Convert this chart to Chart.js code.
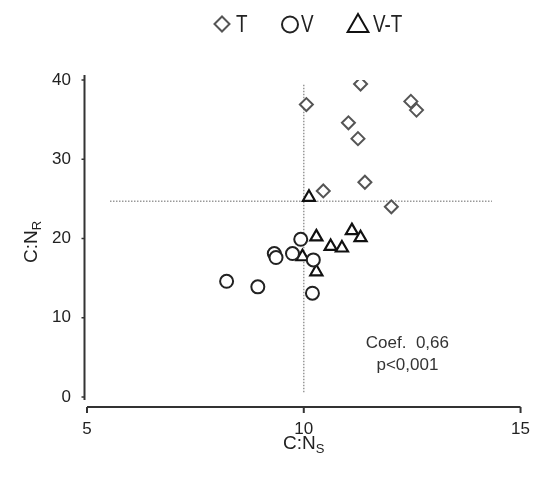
<!DOCTYPE html>
<html>
<head>
<meta charset="utf-8">
<script src="https://cdn.jsdelivr.net/npm/chart.js@4.4.0/dist/chart.umd.min.js"></script>
<style>
  html, body { margin: 0; padding: 0; background: #fff; }
  #wrap { width: 534px; height: 481px; }
</style>
</head>
<body>
<div id="wrap"><canvas id="chart"></canvas></div>
<script>
var FONT = "'Liberation Sans', Arial, sans-serif";

// values
var tX = [11.31, 10.06, 12.47, 12.60, 11.03, 11.25, 11.41, 10.45, 12.02];
var tY = [39.5, 36.9, 37.3, 36.2, 34.6, 32.6, 27.1, 26.0, 24.0];

var vX = [8.22, 8.94, 9.32, 9.36, 9.74, 9.93, 10.22, 10.20];
var vY = [14.6, 13.9, 18.1, 17.6, 18.1, 19.9, 17.3, 13.1];

var vtX = [10.12, 10.29, 10.62, 10.88, 11.11, 11.31, 9.97, 10.29];
var vtY = [25.2, 20.2, 19.0, 18.8, 21.0, 20.1, 17.7, 15.8];

var seriesNames = ['T', 'V', 'V-T'];

// dotted reference lines
var vLineX = [10, 10];
var vLineY = [0.6, 39.5];
var hLineX = [5.53, 14.34];
var hLineY = [24.7, 24.7];

var xTicks = [5, 10, 15];
var yTicks = [0, 10, 20, 30, 40];

var statLines = ['Coef.  0,66', 'p<0,001'];
var statPos = { x: 12.39, y: [6.8, 4.0] };

function pts(xs, ys) {
  return xs.map(function(x, i) { return { x: x, y: ys[i] }; });
}

// legend drawn by hand so it can sit where the original has it
var legendItems = [
  { style: 'rectRot', r: 7.5, mx: 222, my: 24, tx: 236 },
  { style: 'circle', r: 8, mx: 290, my: 24.5, tx: 301 },
  { style: 'triangle', r: 12, mx: 358, my: 26, tx: 373 }
];

var axesPlugin = {
  id: 'axesPlugin',
  afterDraw: function(chart) {
    var ctx = chart.ctx;
    var xs = chart.scales.x, ys = chart.scales.y;
    var a = chart.chartArea;
    ctx.save();
    ctx.strokeStyle = '#333';
    ctx.lineWidth = 2;
    // y axis
    var yx = a.left - 2.5;
    ctx.beginPath();
    ctx.moveTo(yx, ys.getPixelForValue(40) - 5);
    ctx.lineTo(yx, ys.getPixelForValue(0) + 3);
    ctx.stroke();
    ctx.lineWidth = 1.5;
    yTicks.forEach(function(t) {
      var p = ys.getPixelForValue(t);
      ctx.beginPath();
      ctx.moveTo(yx - 3, p);
      ctx.lineTo(yx, p);
      ctx.stroke();
    });
    // x axis
    ctx.lineWidth = 2;
    ctx.beginPath();
    ctx.moveTo(xs.getPixelForValue(5), a.bottom);
    ctx.lineTo(xs.getPixelForValue(15), a.bottom);
    ctx.stroke();
    xTicks.forEach(function(t) {
      var p = xs.getPixelForValue(t);
      ctx.beginPath();
      ctx.moveTo(p, a.bottom);
      ctx.lineTo(p, a.bottom + 6);
      ctx.stroke();
    });

    // axis titles with subscripts
    ctx.fillStyle = '#222';
    ctx.textBaseline = 'alphabetic';
    function subTitle(main, sub, cx, cy) {
      ctx.font = '19px ' + FONT;
      var w1 = ctx.measureText(main).width;
      ctx.font = '13px ' + FONT;
      var w2 = ctx.measureText(sub).width;
      var x0 = cx - (w1 + w2) / 2;
      ctx.font = '19px ' + FONT;
      ctx.textAlign = 'left';
      ctx.fillText(main, x0, cy);
      ctx.font = '13px ' + FONT;
      ctx.fillText(sub, x0 + w1, cy + 4);
    }
    subTitle('C:N', 'S', xs.getPixelForValue(10), 449);
    ctx.save();
    ctx.translate(37, 242);
    ctx.rotate(-Math.PI / 2);
    subTitle('C:N', 'R', 0, 0);
    ctx.restore();

    // statistics note
    ctx.font = '17px ' + FONT;
    ctx.textAlign = 'center';
    ctx.textBaseline = 'middle';
    ctx.fillStyle = '#333';
    statLines.forEach(function(s, i) {
      ctx.fillText(s, xs.getPixelForValue(statPos.x), ys.getPixelForValue(statPos.y[i]));
    });

    // legend
    legendItems.forEach(function(it, i) {
      var ds = chart.data.datasets[i];
      ctx.strokeStyle = ds.borderColor;
      ctx.fillStyle = '#fff';
      ctx.lineWidth = 2;
      Chart.helpers.drawPoint(ctx, { pointStyle: it.style, radius: it.r, rotation: 0, borderWidth: 2 }, it.mx, it.my);
      ctx.save();
      ctx.fillStyle = '#222';
      ctx.font = '23px ' + FONT;
      ctx.textAlign = 'left';
      ctx.textBaseline = 'alphabetic';
      ctx.translate(it.tx, 32);
      ctx.scale(0.82, 1);
      ctx.fillText(ds.label, 0, 0);
      ctx.restore();
    });
    ctx.restore();
  }
};

var ctx = document.getElementById('chart').getContext('2d');
var myChart = new Chart(ctx, {
  type: 'scatter',
  data: {
    datasets: [
      {
        label: seriesNames[0], data: pts(tX, tY),
        pointStyle: 'rectRot', pointRadius: 6.5, borderWidth: 2,
        borderColor: '#555', backgroundColor: '#fff'
      },
      {
        label: seriesNames[1], data: pts(vX, vY),
        pointStyle: 'circle', pointRadius: 6.5, borderWidth: 2,
        borderColor: '#222', backgroundColor: '#fff'
      },
      {
        label: seriesNames[2], data: pts(vtX, vtY),
        pointStyle: 'triangle', pointRadius: 7, borderWidth: 2.2,
        borderColor: '#111', backgroundColor: '#fff'
      },
      {
        label: 'vline', data: pts(vLineX, vLineY), showLine: true,
        pointRadius: 0, borderColor: '#999', borderWidth: 1.5, borderDash: [1.5, 1.5]
      },
      {
        label: 'hline', data: pts(hLineX, hLineY), showLine: true,
        pointRadius: 0, borderColor: '#999', borderWidth: 1.5, borderDash: [1.5, 1.5]
      }
    ]
  },
  options: {
    responsive: true,
    maintainAspectRatio: false,
    animation: false,
    layout: { padding: { top: 80, right: 10, bottom: 0, left: 0 } },
    scales: {
      x: {
        type: 'linear', min: 5, max: 15,
        afterBuildTicks: function(s) { s.ticks = xTicks.map(function(v) { return { value: v }; }); },
        afterFit: function(s) { s.height = 74; },
        grid: { display: false }, border: { display: false },
        ticks: { color: '#222', padding: 4, font: { family: FONT, size: 17 } }
      },
      y: {
        type: 'linear', min: -1.26, max: 40,
        afterBuildTicks: function(s) { s.ticks = yTicks.map(function(v) { return { value: v }; }); },
        afterFit: function(s) { s.width = 87; },
        grid: { display: false }, border: { display: false },
        ticks: { color: '#222', padding: 8, font: { family: FONT, size: 17 } }
      }
    },
    plugins: {
      tooltip: { enabled: false },
      legend: { display: false }
    }
  },
  plugins: [axesPlugin]
});
</script>
</body>
</html>
